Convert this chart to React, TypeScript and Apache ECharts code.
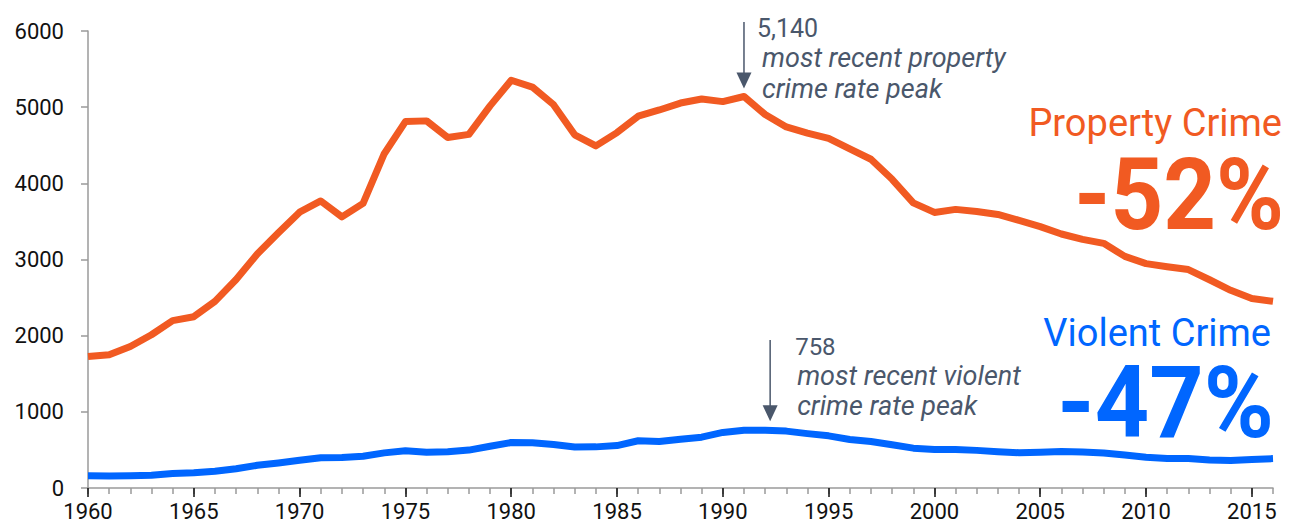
import React, { useEffect, useRef } from "react";
import * as echarts from "echarts";

const years: number[] = [
  1960, 1961, 1962, 1963, 1964, 1965, 1966, 1967, 1968, 1969,
  1970, 1971, 1972, 1973, 1974, 1975, 1976, 1977, 1978, 1979,
  1980, 1981, 1982, 1983, 1984, 1985, 1986, 1987, 1988, 1989,
  1990, 1991, 1992, 1993, 1994, 1995, 1996, 1997, 1998, 1999,
  2000, 2001, 2002, 2003, 2004, 2005, 2006, 2007, 2008, 2009,
  2010, 2011, 2012, 2013, 2014, 2015, 2016,
];
const majorYears: number[] = [1960, 1965, 1970, 1975, 1980, 1985, 1990, 1995, 2000, 2005, 2010, 2015];

const propertyCrime: number[] = [
  1726, 1748, 1858, 2012, 2198, 2249, 2451, 2737, 3072, 3351,
  3621, 3769, 3560, 3737, 4389, 4811, 4820, 4602, 4643, 5017,
  5353, 5264, 5033, 4637, 4492, 4666, 4882, 4963, 5054, 5107,
  5073, 5140, 4904, 4740, 4660, 4591, 4451, 4316, 4053, 3744,
  3618, 3658, 3631, 3591, 3514, 3432, 3335, 3264, 3212, 3041,
  2946, 2905, 2868, 2734, 2596, 2487, 2451,
];
const violentCrime: number[] = [
  161, 158, 162, 168, 191, 200, 220, 253, 298, 329,
  364, 396, 401, 417, 461, 488, 468, 476, 498, 549,
  597, 594, 571, 538, 540, 557, 620, 610, 641, 667,
  730, 758, 758, 747, 714, 685, 637, 611, 568, 523,
  507, 505, 494, 476, 463, 469, 479, 472, 459, 432,
  405, 387, 388, 369, 362, 374, 386,
];

const propertyPeak = { year: 1991, value: 5140, label: "5,140", note: ["most recent property", "crime rate peak"] };
const violentPeak = { year: 1992, value: 758, label: "758", note: ["most recent violent", "crime rate peak"] };

const ORANGE = "#F15A22";
const BLUE = "#0066FF";
const SLATE = "#4A576B";
const AXIS_GRAY = "#9a9a9a";
const FONT = "Roboto, 'Noto Sans', sans-serif";

export default function App() {
  const ref = useRef<HTMLDivElement>(null);

  useEffect(() => {
    if (!ref.current) return;
    const chart = echarts.init(ref.current, undefined, { renderer: "svg" });
    const option: any = {
      animation: false,
      backgroundColor: "#ffffff",
      grid: { left: 88, right: 17, top: 31, bottom: 37 },
      xAxis: [
        {
          type: "value",
          min: 1960,
          max: 2016,
          position: "bottom",
          axisLine: { show: true, lineStyle: { color: AXIS_GRAY, width: 1.5 } },
          axisTick: { show: true, customValues: years, length: 6, lineStyle: { color: AXIS_GRAY, width: 1.5 } },
          axisLabel: { show: false },
          splitLine: { show: false },
        },
        {
          type: "value",
          min: 1960,
          max: 2016,
          position: "bottom",
          axisLine: { show: false },
          axisTick: { show: true, customValues: majorYears, length: 9, lineStyle: { color: "#111", width: 1.5 } },
          axisLabel: {
            show: true,
            customValues: majorYears,
            formatter: (v: number) => String(v),
            fontSize: 22,
            color: "#111",
            margin: 12,
            fontFamily: FONT,
          },
          splitLine: { show: false },
        },
      ],
      yAxis: {
        type: "value",
        min: 0,
        max: 6000,
        interval: 1000,
        axisLine: { show: true, lineStyle: { color: AXIS_GRAY, width: 1.5 } },
        axisTick: { show: true, length: 7, lineStyle: { color: AXIS_GRAY, width: 1.5 } },
        axisLabel: {
          fontSize: 22,
          color: "#111",
          margin: 24,
          fontFamily: FONT,
          formatter: (v: number) => String(v),
        },
        splitLine: { show: false },
      },
      series: [
        {
          name: "Property Crime",
          type: "line",
          xAxisIndex: 0,
          showSymbol: false,
          data: years.map((y, i) => [y, propertyCrime[i]]),
          lineStyle: { color: ORANGE, width: 7, join: "round" },
          itemStyle: { color: ORANGE },
          z: 3,
        },
        {
          name: "Violent Crime",
          type: "line",
          xAxisIndex: 0,
          showSymbol: false,
          data: years.map((y, i) => [y, violentCrime[i]]),
          lineStyle: { color: BLUE, width: 7, join: "round" },
          itemStyle: { color: BLUE },
          z: 3,
        },
      ],
    };
    chart.setOption(option);

    const pp = chart.convertToPixel({ xAxisIndex: 0, yAxisIndex: 0 }, [propertyPeak.year, propertyPeak.value]) as number[];
    const vp = chart.convertToPixel({ xAxisIndex: 0, yAxisIndex: 0 }, [violentPeak.year, violentPeak.value]) as number[];

    const arrow = (x: number, y1: number, tip: number) => [
      { type: "line", shape: { x1: x, y1, x2: x, y2: tip - 10 }, style: { stroke: SLATE, lineWidth: 1.5 } },
      {
        type: "polygon",
        shape: { points: [[x - 7.5, tip - 16], [x + 7.5, tip - 16], [x, tip]] },
        style: { fill: SLATE },
      },
    ];
    const txt = (x: number, y: number, text: string, size: number, color: string, extra: any = {}, el: any = {}) => ({
      type: "text",
      x,
      y,
      ...el,
      style: {
        text,
        fontSize: size,
        fill: color,
        fontFamily: FONT,
        verticalAlign: "middle",
        align: "left",
        ...extra,
      },
    });

    const px = pp[0];
    const ptip = pp[1] - 8;
    const vx = vp[0] + 5;
    const vtip = vp[1] - 9;

    chart.setOption({
      graphic: [
        ...arrow(px, 22, ptip),
        txt(px + 13, 28, propertyPeak.label, 25, SLATE),
        txt(px + 18, 58, propertyPeak.note[0], 27, SLATE, { fontStyle: "italic" }),
        txt(px + 18, 89, propertyPeak.note[1], 27, SLATE, { fontStyle: "italic" }),
        ...arrow(vx, 340, vtip),
        txt(vx + 25, 347, violentPeak.label, 24, SLATE),
        txt(vx + 27, 376, violentPeak.note[0], 27, SLATE, { fontStyle: "italic" }),
        txt(vx + 27, 406, violentPeak.note[1], 27, SLATE, { fontStyle: "italic" }),
        txt(1282, 123, "Property Crime", 38, ORANGE, { align: "right", lineHeight: 30 }),
        txt(1284, 195, "-52%", 100, ORANGE, { align: "right", fontWeight: "bold", lineHeight: 76 }, { scaleX: 0.92 }),
        txt(1271, 333, "Violent Crime", 38, BLUE, { align: "right", lineHeight: 30 }),
        txt(1274, 403, "-47%", 100, BLUE, { align: "right", fontWeight: "bold", lineHeight: 76 }, { scaleX: 0.95 }),
      ],
    });

    return () => chart.dispose();
  }, []);

  return (
    <div
      ref={ref}
      style={{ position: "fixed", left: 0, top: 0, width: 1290, height: 525, background: "#fff" }}
    />
  );
}
